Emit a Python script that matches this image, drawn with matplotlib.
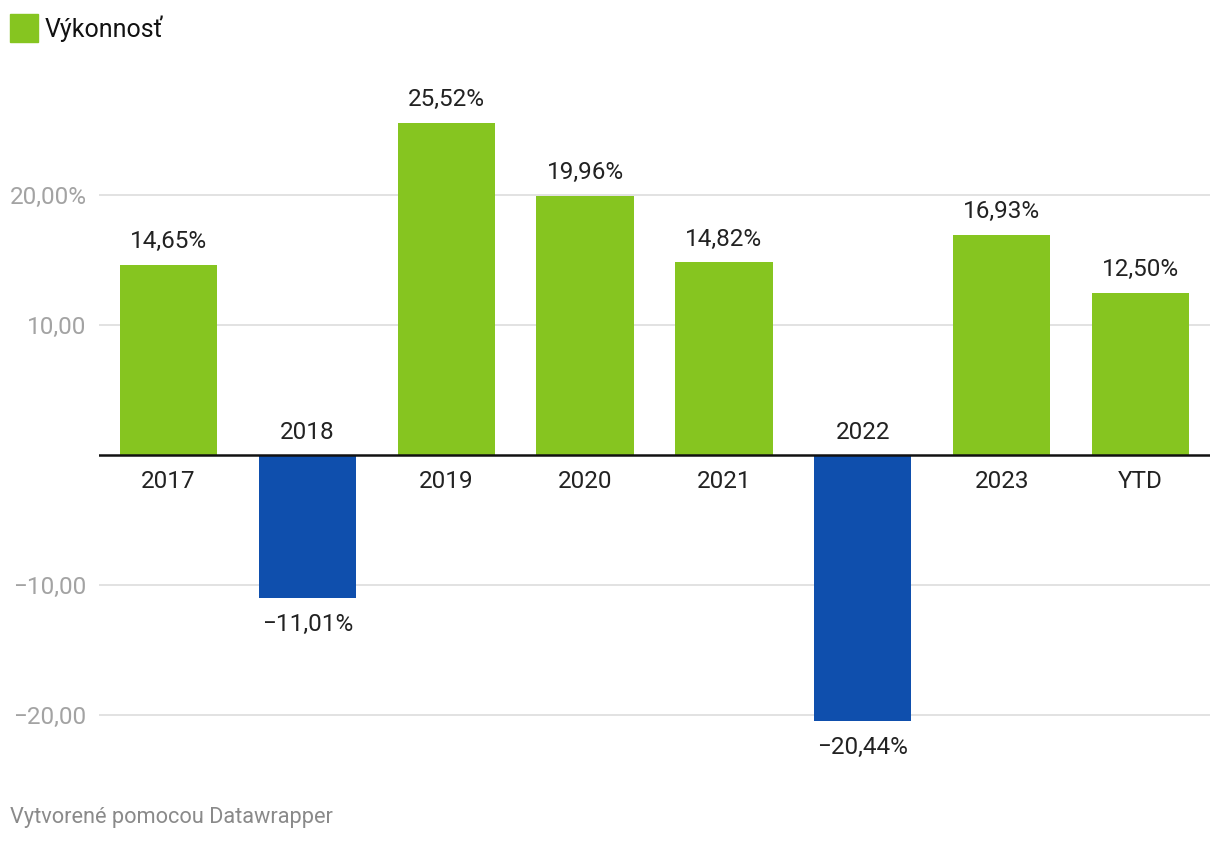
import matplotlib

matplotlib.use("Agg")

import matplotlib.pyplot as plt
from matplotlib.patches import Rectangle

plt.rcParams["font.family"] = ["Roboto", "DejaVu Sans"]

CATEGORIES = ["2017", "2018", "2019", "2020", "2021", "2022", "2023", "YTD"]
VALUES = [14.65, -11.01, 25.52, 19.96, 14.82, -20.44, 16.93, 12.50]
YTICKS = [-20, -10, 10, 20]
YTICK_LABELS = ["\u221220,00", "\u221210,00", "10,00", "20,00%"]

GREEN = "#86c520"
BLUE = "#0f4fad"
GRID = "#e2e2e2"
TICK = "#a3a3a3"
FOOT = "#8a8a8a"
FS = 17.5


def fmt(v):
    s = f"{abs(v):.2f}".replace(".", ",") + "%"
    return ("\u2212" + s) if v < 0 else s


fig = plt.figure(figsize=(12.2, 8.44), dpi=100)
ax = fig.add_axes([99 / 1220, 1 - 767 / 844, 1111 / 1220, 676 / 844])
ax.set_xlim(-0.5, len(CATEGORIES) - 0.5)
ax.set_ylim(-24, 28)

xs = range(len(CATEGORIES))
colors = [GREEN if v >= 0 else BLUE for v in VALUES]
ax.bar(xs, VALUES, width=0.70, color=colors, zorder=3)

for y in YTICKS:
    ax.axhline(y, color=GRID, linewidth=1.4, zorder=1)
ax.axhline(0, color="#111111", linewidth=1.8, zorder=4)

for x, v, cat in zip(xs, VALUES, CATEGORIES):
    if v >= 0:
        ax.annotate(fmt(v), (x, v), xytext=(0, 8.5), textcoords="offset points",
                    ha="center", va="bottom", fontsize=FS, color="#222222")
        ax.annotate(cat, (x, 0), xytext=(0, -19), textcoords="offset points",
                    ha="center", va="center", fontsize=FS, color="#222222")
    else:
        ax.annotate(fmt(v), (x, v), xytext=(0, -19), textcoords="offset points",
                    ha="center", va="center", fontsize=FS, color="#222222")
        ax.annotate(cat, (x, 0), xytext=(0, 16.5), textcoords="offset points",
                    ha="center", va="center", fontsize=FS, color="#222222")

ax.set_yticks(YTICKS)
ax.set_yticklabels(YTICK_LABELS, fontsize=FS, color=TICK)
ax.tick_params(axis="y", length=0, pad=9)
ax.set_xticks([])
for s in ax.spines.values():
    s.set_visible(False)

# legend
fig.patches.append(Rectangle((10 / 1220, 1 - 42 / 844), 28 / 1220, 28 / 844,
                             transform=fig.transFigure, color=GREEN))
fig.text(45 / 1220, 1 - 29 / 844, "Výkonnosť", fontsize=18, va="center",
         ha="left", color="#111111")

fig.text(10 / 1220, 1 - 818 / 844, "Vytvorené pomocou Datawrapper", fontsize=15.7,
         va="center", ha="left", color=FOOT)

fig.savefig("out.png", dpi=100)
